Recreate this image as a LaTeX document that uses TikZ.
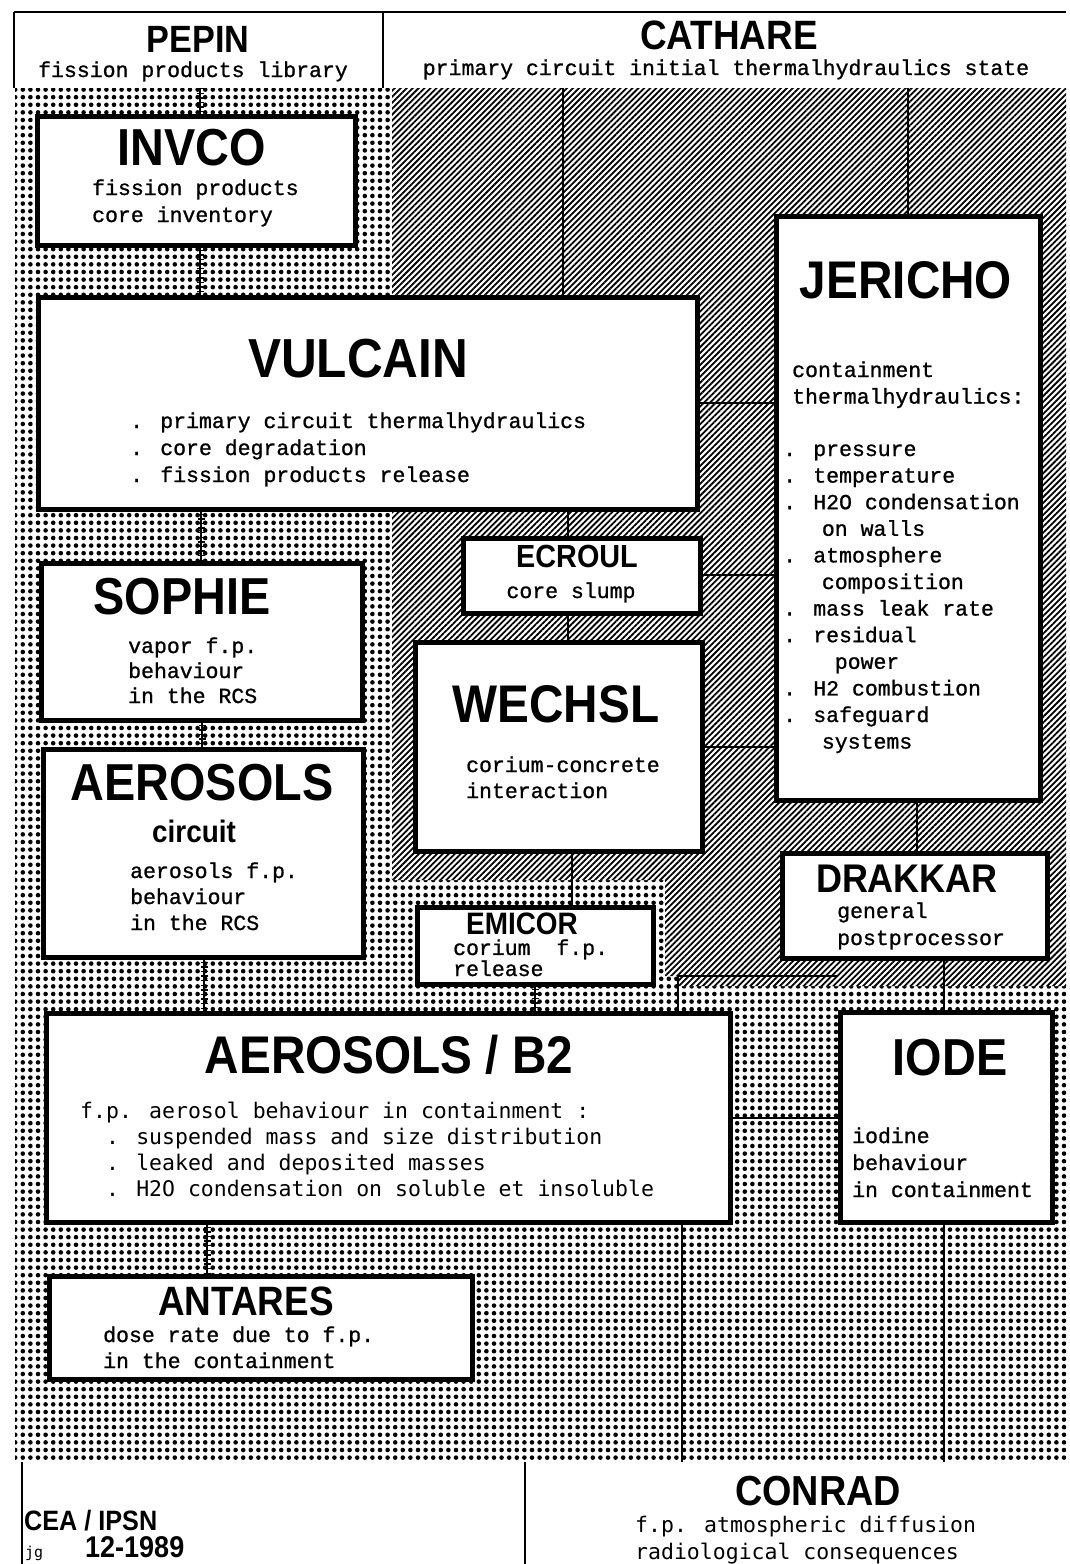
\documentclass[tikz,border=0pt]{standalone}
\usepackage{fontspec}
\usetikzlibrary{patterns.meta}
\newfontfamily\titlef[FakeStretch=0.9]{Liberation Sans}
\newfontfamily\cour[FakeBold=1]{Liberation Mono}
\newfontfamily\goth{DejaVu Sans Mono}
\newcommand\boxnode[5]{\node[box, minimum width={#4-#2}, minimum height={#5-#3}] (#1) at ({(#2+#4)/2},{(#3+#5)/2}) {};}
\newcommand\cellnode[5]{\node[cell, minimum width={#4-#2}, minimum height={#5-#3}] (#1) at ({(#2+#4)/2},{(#3+#5)/2}) {};}
\tikzset{
  box/.style={draw, line width=5pt, fill=white, inner sep=0pt, outer sep=0pt},
  cell/.style={inner sep=0pt, outer sep=0pt},
  conn/.style={line width=2.6pt},
  ladder/.style={line width=1.2pt, preaction={draw, line width=7pt, dash pattern=on 1.4pt off 3.2pt}},
  ttl/.style={inner sep=0pt, anchor=base, font=\titlef\bfseries\fontsize{#1}{#1}\selectfont},
  ctext/.style={inner sep=0pt, anchor=base west, align=left, font=\cour\fontsize{21.5}{#1}\selectfont},
  gtext/.style={inner sep=0pt, anchor=base west, align=left, font=\goth\fontsize{21.5}{#1}\selectfont},
}
\begin{document}
\begin{tikzpicture}[x=1pt,y=-1pt]
\useasboundingbox (0,0) rectangle (1069,1564);
\fill[white] (0,0) rectangle (1069,1564);
% background textures
\fill[pattern={Dots[distance=7.6pt, radius=2.3pt]}] (15,88) rectangle (1066,1462);
\fill[white] (392,88) -- (1066,88) -- (1066,986) -- (678,986) -- (678,976) -- (665,976) -- (665,880) -- (392,880) -- cycle;
\fill[pattern={Lines[angle=45, distance=4.2pt, line width=1.8pt]}] (392,88) -- (1066,88) -- (1066,986) -- (678,986) -- (678,976) -- (665,976) -- (665,880) -- (392,880) -- cycle;
% header and footer cells
\cellnode{pepin}{14}{12}{383}{88}
\cellnode{cathare}{383}{12}{1066}{88}
\cellnode{cea}{22}{1462}{525}{1564}
\cellnode{conrad}{525}{1462}{1066}{1564}
\draw[line width=2.5pt] (pepin.north west) -- (cathare.north east);
\draw[line width=2pt] (pepin.north west) -- (pepin.south west);
\draw[line width=1.5pt] (pepin.north east) -- (pepin.south east);
\draw[line width=2pt] (cea.north west) -- (cea.south west);
\draw[line width=1.5pt] (cea.north east) -- (cea.south east);
% boxes
\boxnode{invco}{37}{116}{355}{245}
\boxnode{vulcain}{38}{297}{697}{509}
\boxnode{jericho}{776}{216}{1040}{800}
\boxnode{ecroul}{463}{538}{700}{613}
\boxnode{sophie}{41}{563}{362}{720}
\boxnode{wechsl}{415}{642}{702}{851}
\boxnode{aerosols}{43}{749}{363}{957}
\boxnode{drakkar}{782}{853}{1047}{958}
\boxnode{emicor}{417}{907}{653}{984}
\boxnode{b2}{46}{1013}{730}{1222}
\boxnode{iode}{840}{1012}{1052}{1222}
\boxnode{antares}{49}{1276}{472}{1379}
% ladder links in the dotted zone
\draw[ladder] (200,0 |- pepin.south) -- (200,0 |- invco.north);
\draw[ladder] (200,0 |- invco.south) -- (200,0 |- vulcain.north);
\draw[ladder] (201,0 |- vulcain.south) -- (201,0 |- sophie.north);
\draw[ladder] (202,0 |- sophie.south) -- (202,0 |- aerosols.north);
\draw[ladder] (204,0 |- aerosols.south) -- (204,0 |- b2.north);
\draw[ladder] (535,0 |- emicor.south) -- (535,0 |- b2.north);
\draw[ladder] (207,0 |- b2.south) -- (207,0 |- antares.north);
% solid links
\draw[conn] (563,0 |- cathare.south) -- (563,0 |- vulcain.north);
\draw[conn] (908,0 |- cathare.south) -- (908,0 |- jericho.north);
\draw[conn] (vulcain.east |- 0,403) -- (jericho.west |- 0,403);
\draw[conn] (ecroul.east |- 0,575) -- (jericho.west |- 0,575);
\draw[conn] (wechsl.east |- 0,747) -- (jericho.west |- 0,747);
\draw[conn] (568,0 |- vulcain.south) -- (568,0 |- ecroul.north);
\draw[conn] (568,0 |- ecroul.south) -- (568,0 |- wechsl.north);
\draw[conn] (572,0 |- wechsl.south) -- (572,0 |- emicor.north);
\draw[conn] (917,0 |- jericho.south) -- (917,0 |- drakkar.north);
\draw[conn] (944,0 |- drakkar.south) -- (944,0 |- iode.north);
\draw[conn] (b2.east |- 0,1118) -- (iode.west |- 0,1118);
\draw[conn] (682,0 |- b2.south) -- (682,0 |- conrad.north);
\draw[conn] (944,0 |- iode.south) -- (944,0 |- conrad.north);
\draw[line width=1.3pt] (678,0 |- b2.north) -- (678,976) -- (838,976);
% header texts
\node[ttl=38] (pepin-t) at (198,52) {PEPIN};
\node[ctext=27, anchor=base] (pepin-s) at (193,77) {fission products library};
\node[ttl=41] (cathare-t) at (729,49) {CATHARE};
\node[ctext=27, anchor=base] (cathare-s) at (726,75) {primary circuit initial thermalhydraulics state};
% box texts (multi-line nodes are placed by the baseline of their last line)
\node[ttl=52] (invco-t) at (192,165) {INVCO};
\node[ctext=27] (invco-s) at (92,222) {fission products\\core inventory};
\node[ttl=55] (vulcain-t) at (358,377) {VULCAIN};
\node[ctext=27] (vulcain-s) at (130,482) {. primary circuit thermalhydraulics\\. core degradation\\. fission products release};
\node[ttl=53] (jericho-t) at (906,298) {JERICHO};
\node[ctext=26.6] (jericho-s) at (792,403.6) {containment\\thermalhydraulics:};
\node[ctext=26.6] (jericho-l) at (783,748.6) {. pressure\\. temperature\\. H2O condensation\\~~~on walls\\. atmosphere\\~~~composition\\. mass leak rate\\. residual\\~~~~power\\. H2 combustion\\. safeguard\\~~~systems};
\node[ttl=32] (ecroul-t) at (577,567) {ECROUL};
\node[ctext=27, anchor=base] (ecroul-s) at (571,598) {core slump};
\node[ttl=52] (sophie-t) at (182,614) {SOPHIE};
\node[ctext=25] (sophie-s) at (128,703) {vapor f.p.\\behaviour\\in the RCS};
\node[ttl=53] (wechsl-t) at (556,722) {WECHSL};
\node[ctext=26] (wechsl-s) at (466,798) {corium-concrete\\interaction};
\node[ttl=52] (aerosols-t) at (202,800) {AEROSOLS};
\node[ttl=31] (aerosols-c) at (194,842) {circuit};
\node[ctext=26] (aerosols-s) at (130,930) {aerosols f.p.\\behaviour\\in the RCS};
\node[ttl=40] (drakkar-t) at (907,892) {DRAKKAR};
\node[ctext=27] (drakkar-s) at (837,945) {general\\postprocessor};
\node[ttl=31] (emicor-t) at (522,934) {EMICOR};
\node[ctext=20] (emicor-s) at (453,976) {corium~~f.p.\\release};
\node[ttl=53] (b2-t) at (389,1073) {AEROSOLS / B2};
\node[gtext=26] (b2-s) at (80,1196) {f.p. aerosol behaviour in containment :\\~~. suspended mass and size distribution\\~~. leaked and deposited masses\\~~. H2O condensation on soluble et insoluble};
\node[ttl=52] (iode-t) at (950,1075) {IODE};
\node[ctext=27] (iode-s) at (852,1197) {iodine\\behaviour\\in containment};
\node[ttl=41] (antares-t) at (246,1315) {ANTARES};
\node[ctext=26] (antares-s) at (103,1368) {dose rate due to f.p.\\in the containment};
% footer texts
\node[ttl=42] (conrad-t) at (818,1505) {CONRAD};
\node[gtext=27] (conrad-s) at (635,1559) {f.p. atmospheric diffusion\\radiological consequences};
\node[ttl=28, anchor=base west] (cea-t) at (24,1530) {CEA / IPSN};
\node[inner sep=0pt, anchor=base west, font=\goth\fontsize{15}{15}\selectfont] (cea-j) at (25,1557) {jg};
\node[ttl=30, anchor=base west] (cea-d) at (85,1557) {12-1989};
\end{tikzpicture}
\end{document}
